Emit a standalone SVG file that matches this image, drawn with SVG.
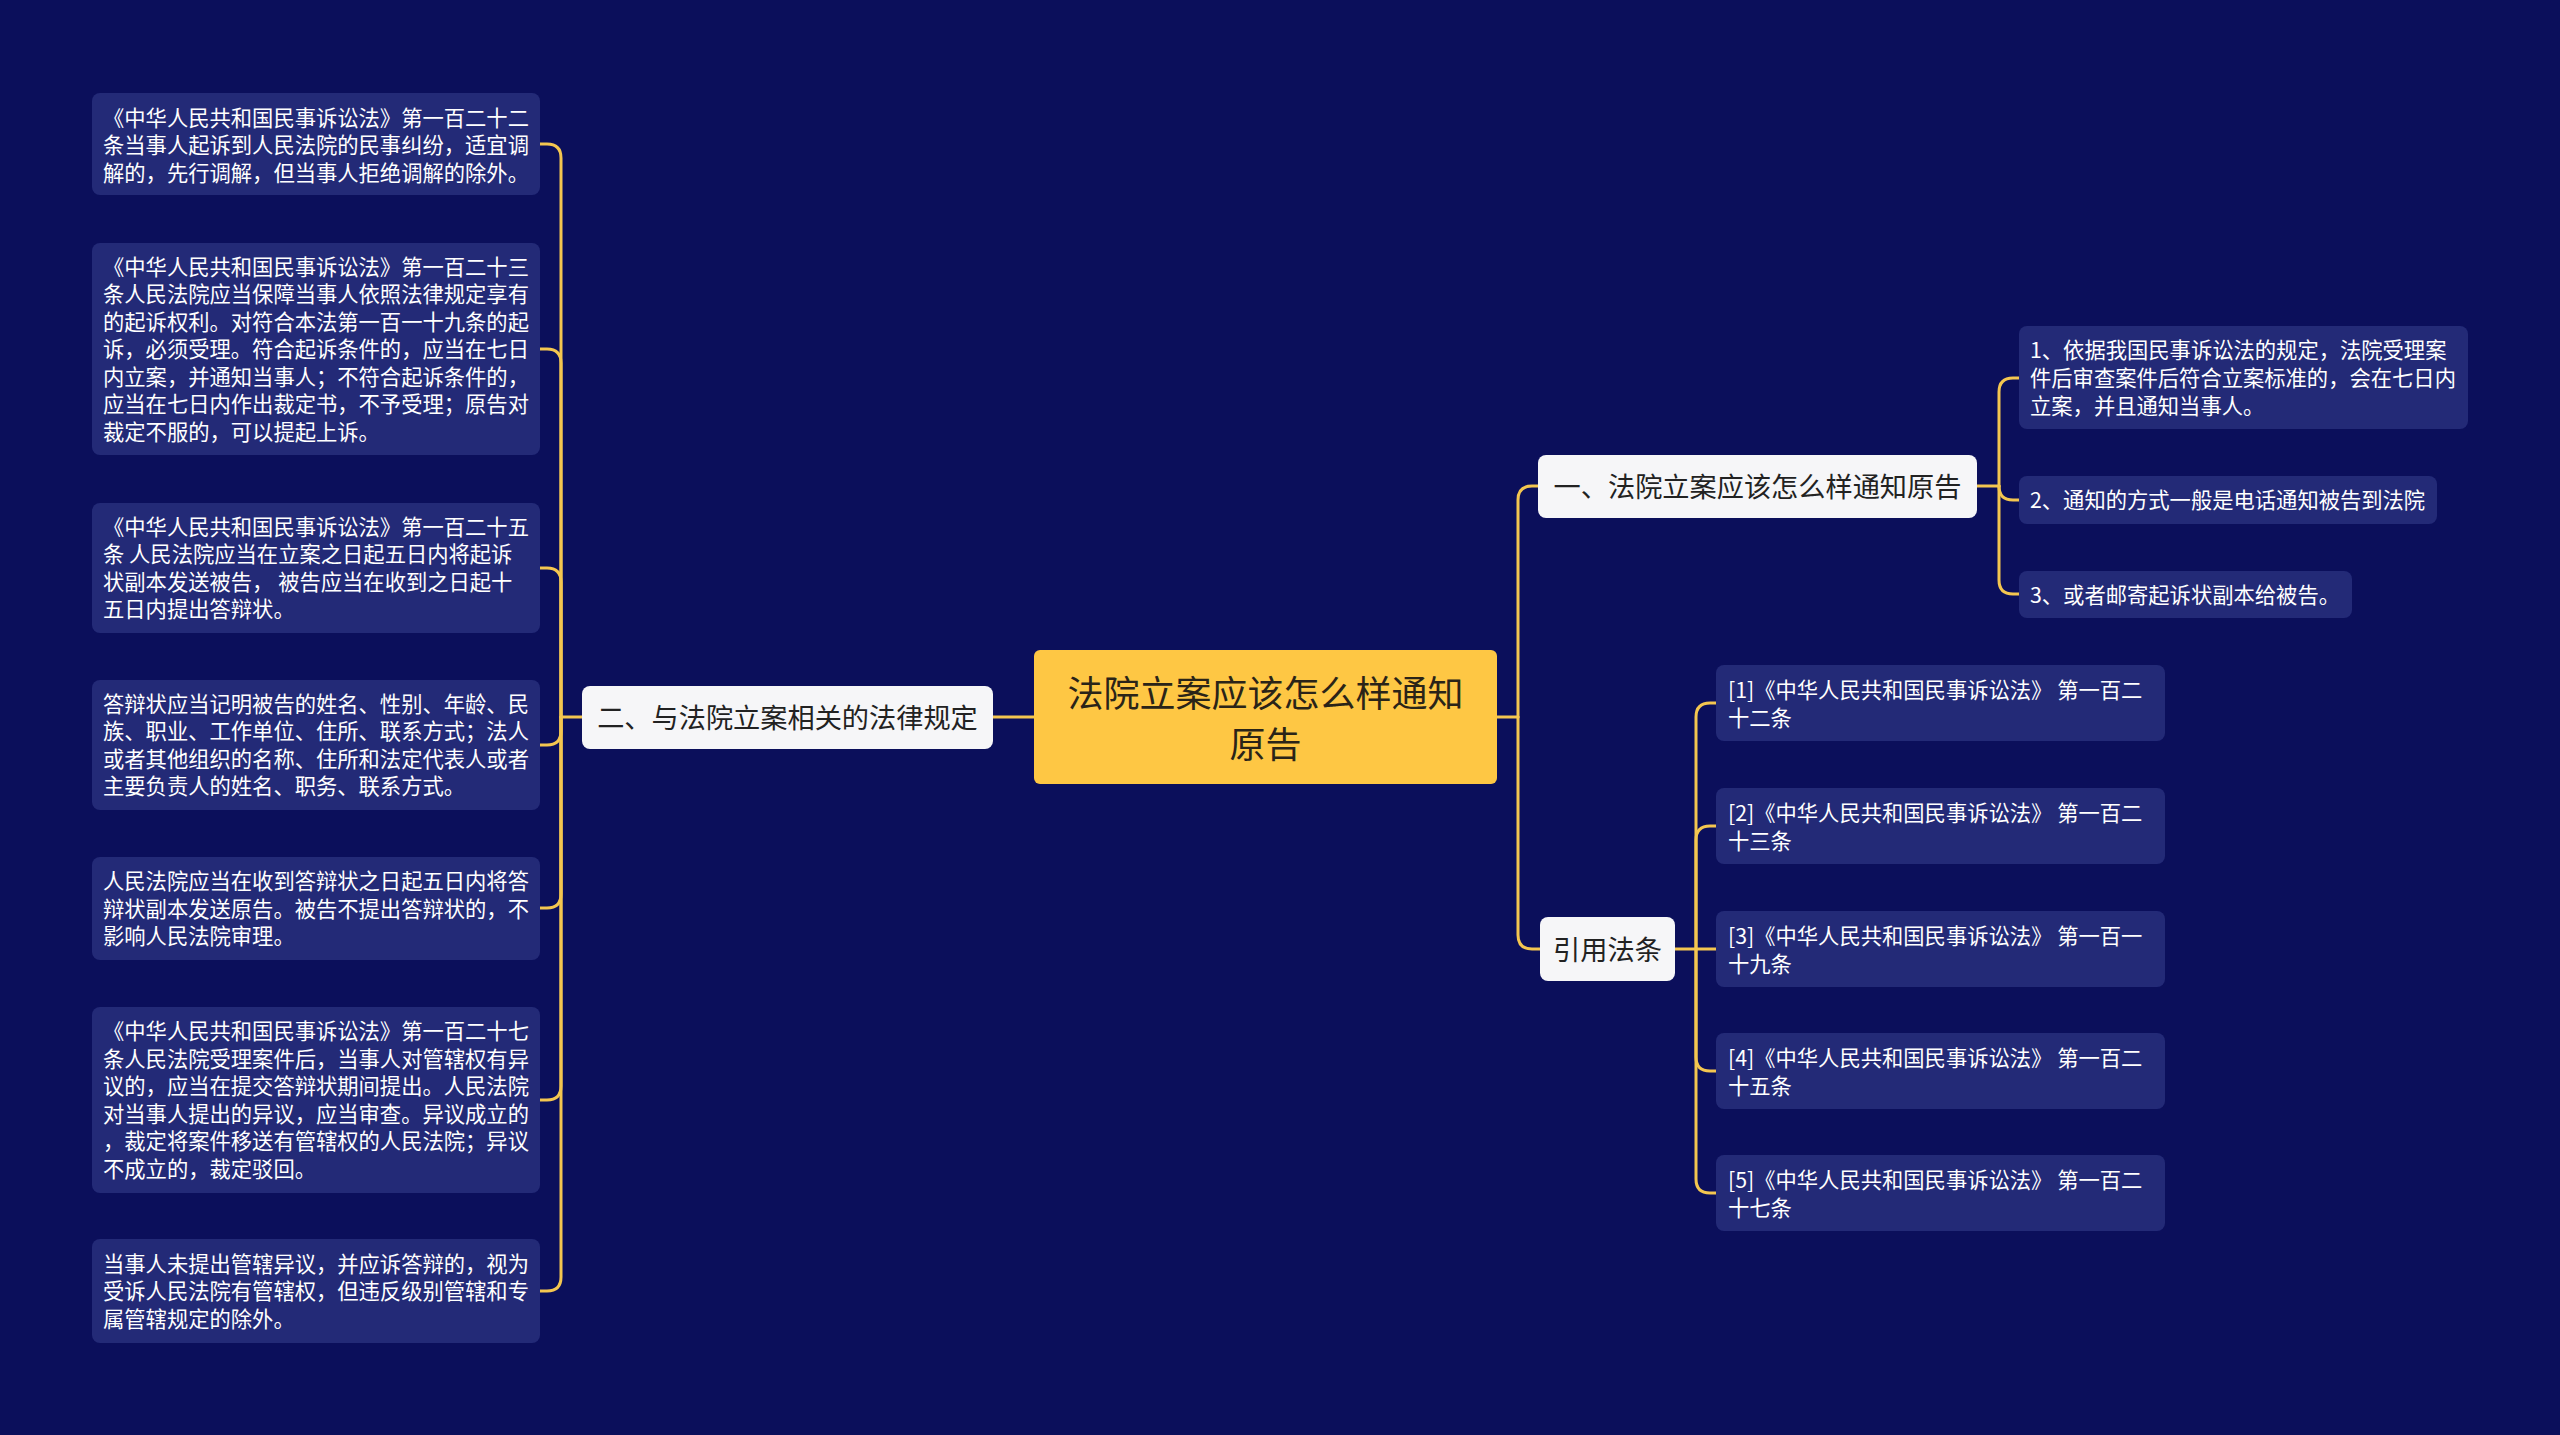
<svg xmlns="http://www.w3.org/2000/svg" width="2560" height="1435" viewBox="0 0 2560 1435">
<style>
.bg{fill:#0B0F5B}
.leaf{fill:#232A77}
.mid{fill:#F6F6F8}
.root{fill:#FEC744}
.lt{font-family:"Noto Sans CJK SC","Noto Sans",sans-serif;font-size:21.3px;fill:#FFFFFF;dominant-baseline:central}
.mt{font-family:"Noto Sans CJK SC","Noto Sans",sans-serif;font-size:27.2px;fill:#222222;dominant-baseline:central;text-anchor:middle}
.rt{font-family:"Noto Sans CJK SC","Noto Sans",sans-serif;font-size:36px;fill:#2A2418;dominant-baseline:central;text-anchor:middle}
.c{fill:none;stroke:#F4C650;stroke-width:3;stroke-linecap:round}
</style>
<rect class="bg" x="0" y="0" width="2560" height="1435"/>
<g id="connectors">
<path class="c" d="M1034 717 H993"/>
<path class="c" d="M582 717 H561"/>
<path class="c" d="M561 717 V158 Q561 144 547 144 H540"/>
<path class="c" d="M561 717 V363 Q561 349 547 349 H540"/>
<path class="c" d="M561 717 V582 Q561 568 547 568 H540"/>
<path class="c" d="M561 717 V731 Q561 745 547 745 H540"/>
<path class="c" d="M561 717 V894 Q561 908 547 908 H540"/>
<path class="c" d="M561 717 V1086 Q561 1100 547 1100 H540"/>
<path class="c" d="M561 717 V1277 Q561 1291 547 1291 H540"/>
<path class="c" d="M1497 717 H1518"/>
<path class="c" d="M1518 717 V500 Q1518 486 1532 486 H1538"/>
<path class="c" d="M1518 717 V935 Q1518 949 1532 949 H1540"/>
<path class="c" d="M1977 486 H1999"/>
<path class="c" d="M1999 486 V392 Q1999 378 2013 378 H2019"/>
<path class="c" d="M1999 486 Q1999 500 2013 500 H2019"/>
<path class="c" d="M1999 486 V580 Q1999 594 2013 594 H2019"/>
<path class="c" d="M1675 949 H1696"/>
<path class="c" d="M1696 949 V717 Q1696 703 1710 703 H1716"/>
<path class="c" d="M1696 949 V840 Q1696 826 1710 826 H1716"/>
<path class="c" d="M1696 949 H1716"/>
<path class="c" d="M1696 949 V1057 Q1696 1071 1710 1071 H1716"/>
<path class="c" d="M1696 949 V1179 Q1696 1193 1710 1193 H1716"/>
</g>
<g id="root">
<rect class="root" x="1034" y="650" width="463" height="134" rx="6"/>
<text class="rt" x="1265.5" y="690.5">法院立案应该怎么样通知</text>
<text class="rt" x="1265.5" y="741.5">原告</text>
</g>
<g id="branch-left">
<rect class="mid" x="582" y="686" width="411" height="63" rx="8"/>
<text class="mt" x="787.5" y="715.5">二、与法院立案相关的法律规定</text>
</g>
<g id="left-1">
<rect class="leaf" x="92" y="93" width="448" height="102" rx="8"/>
<text class="lt" x="103" y="116">《中华人民共和国民事诉讼法》第一百二十二</text>
<text class="lt" x="103" y="143.5">条当事人起诉到人民法院的民事纠纷，适宜调</text>
<text class="lt" x="103" y="171">解的，先行调解，但当事人拒绝调解的除外。</text>
</g>
<g id="left-2">
<rect class="leaf" x="92" y="243" width="448" height="212" rx="8"/>
<text class="lt" x="103" y="265">《中华人民共和国民事诉讼法》第一百二十三</text>
<text class="lt" x="103" y="292.5">条人民法院应当保障当事人依照法律规定享有</text>
<text class="lt" x="103" y="320">的起诉权利。对符合本法第一百一十九条的起</text>
<text class="lt" x="103" y="347.5">诉，必须受理。符合起诉条件的，应当在七日</text>
<text class="lt" x="103" y="375">内立案，并通知当事人；不符合起诉条件的，</text>
<text class="lt" x="103" y="402.5">应当在七日内作出裁定书，不予受理；原告对</text>
<text class="lt" x="103" y="430">裁定不服的，可以提起上诉。</text>
</g>
<g id="left-3">
<rect class="leaf" x="92" y="503" width="448" height="130" rx="8"/>
<text class="lt" x="103" y="525.25">《中华人民共和国民事诉讼法》第一百二十五</text>
<text class="lt" x="103" y="552.75">条 人民法院应当在立案之日起五日内将起诉</text>
<text class="lt" x="103" y="580.25">状副本发送被告， 被告应当在收到之日起十</text>
<text class="lt" x="103" y="607.75">五日内提出答辩状。</text>
</g>
<g id="left-4">
<rect class="leaf" x="92" y="680" width="448" height="130" rx="8"/>
<text class="lt" x="103" y="702.25">答辩状应当记明被告的姓名、性别、年龄、民</text>
<text class="lt" x="103" y="729.75">族、职业、工作单位、住所、联系方式；法人</text>
<text class="lt" x="103" y="757.25">或者其他组织的名称、住所和法定代表人或者</text>
<text class="lt" x="103" y="784.75">主要负责人的姓名、职务、联系方式。</text>
</g>
<g id="left-5">
<rect class="leaf" x="92" y="857" width="448" height="103" rx="8"/>
<text class="lt" x="103" y="879.5">人民法院应当在收到答辩状之日起五日内将答</text>
<text class="lt" x="103" y="907">辩状副本发送原告。被告不提出答辩状的，不</text>
<text class="lt" x="103" y="934.5">影响人民法院审理。</text>
</g>
<g id="left-6">
<rect class="leaf" x="92" y="1007" width="448" height="186" rx="8"/>
<text class="lt" x="103" y="1029.75">《中华人民共和国民事诉讼法》第一百二十七</text>
<text class="lt" x="103" y="1057.25">条人民法院受理案件后，当事人对管辖权有异</text>
<text class="lt" x="103" y="1084.75">议的，应当在提交答辩状期间提出。人民法院</text>
<text class="lt" x="103" y="1112.25">对当事人提出的异议，应当审查。异议成立的</text>
<text class="lt" x="103" y="1139.75">，裁定将案件移送有管辖权的人民法院；异议</text>
<text class="lt" x="103" y="1167.25">不成立的，裁定驳回。</text>
</g>
<g id="left-7">
<rect class="leaf" x="92" y="1239" width="448" height="104" rx="8"/>
<text class="lt" x="103" y="1262">当事人未提出管辖异议，并应诉答辩的，视为</text>
<text class="lt" x="103" y="1289.5">受诉人民法院有管辖权，但违反级别管辖和专</text>
<text class="lt" x="103" y="1317">属管辖规定的除外。</text>
</g>
<g id="branch-1">
<rect class="mid" x="1538" y="455" width="439" height="63" rx="8"/>
<text class="mt" x="1757.5" y="484.5">一、法院立案应该怎么样通知原告</text>
</g>
<g id="b1-c1">
<rect class="leaf" x="2019" y="326" width="449" height="103" rx="8"/>
<text class="lt" x="2030" y="348">1、依据我国民事诉讼法的规定，法院受理案</text>
<text class="lt" x="2030" y="376">件后审查案件后符合立案标准的，会在七日内</text>
<text class="lt" x="2030" y="404">立案，并且通知当事人。</text>
</g>
<g id="b1-c2">
<rect class="leaf" x="2019" y="476" width="418" height="48" rx="8"/>
<text class="lt" x="2030" y="498.5">2、通知的方式一般是电话通知被告到法院</text>
</g>
<g id="b1-c3">
<rect class="leaf" x="2019" y="571" width="333" height="47" rx="8"/>
<text class="lt" x="2030" y="593">3、或者邮寄起诉状副本给被告。</text>
</g>
<g id="branch-2">
<rect class="mid" x="1540" y="917" width="135" height="64" rx="8"/>
<text class="mt" x="1607.5" y="947.5">引用法条</text>
</g>
<g id="b2-r1">
<rect class="leaf" x="1716" y="665" width="449" height="76" rx="8"/>
<text class="lt" x="1728" y="688">[1]《中华人民共和国民事诉讼法》 第一百二</text>
<text class="lt" x="1728" y="716">十二条</text>
</g>
<g id="b2-r2">
<rect class="leaf" x="1716" y="788" width="449" height="76" rx="8"/>
<text class="lt" x="1728" y="811">[2]《中华人民共和国民事诉讼法》 第一百二</text>
<text class="lt" x="1728" y="839">十三条</text>
</g>
<g id="b2-r3">
<rect class="leaf" x="1716" y="911" width="449" height="76" rx="8"/>
<text class="lt" x="1728" y="934">[3]《中华人民共和国民事诉讼法》 第一百一</text>
<text class="lt" x="1728" y="962">十九条</text>
</g>
<g id="b2-r4">
<rect class="leaf" x="1716" y="1033" width="449" height="76" rx="8"/>
<text class="lt" x="1728" y="1056">[4]《中华人民共和国民事诉讼法》 第一百二</text>
<text class="lt" x="1728" y="1084">十五条</text>
</g>
<g id="b2-r5">
<rect class="leaf" x="1716" y="1155" width="449" height="76" rx="8"/>
<text class="lt" x="1728" y="1178">[5]《中华人民共和国民事诉讼法》 第一百二</text>
<text class="lt" x="1728" y="1206">十七条</text>
</g>
</svg>
